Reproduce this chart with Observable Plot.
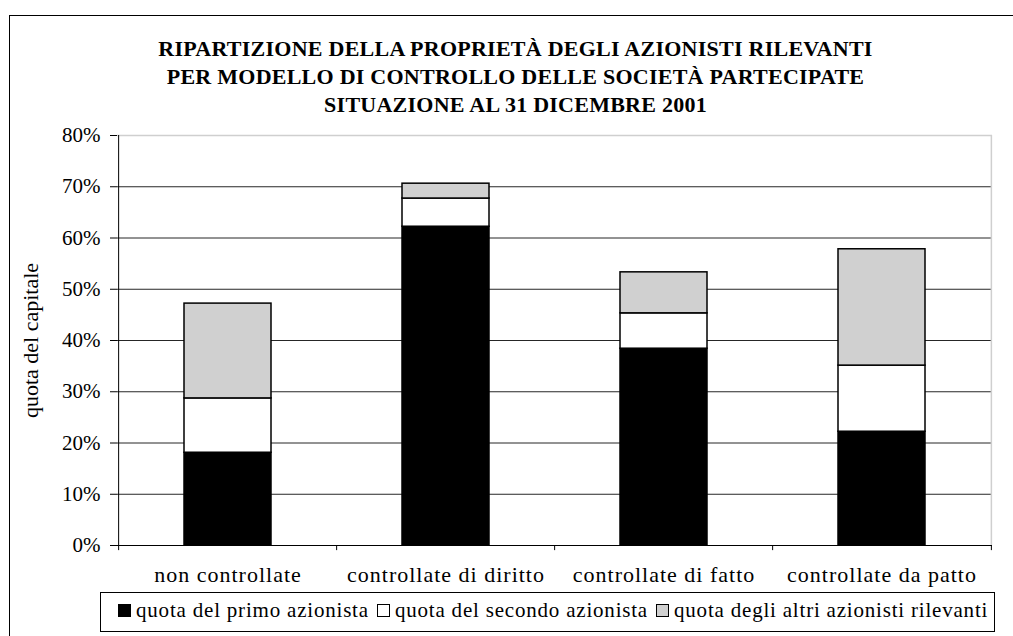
<!DOCTYPE html>
<html><head><meta charset="utf-8">
<script src="https://cdn.jsdelivr.net/npm/d3@7"></script>
<script src="https://cdn.jsdelivr.net/npm/@observablehq/plot@0.6"></script>
<style>
body{margin:0;background:#fff;overflow:hidden;}
#wrap{position:relative;width:1013px;height:636px;overflow:hidden;font-family:"Liberation Serif","Times New Roman",serif;color:#000;}
#frame{position:absolute;left:9px;top:15px;width:1040px;height:640px;border:1.5px solid #000;box-sizing:border-box;}
#title{position:absolute;left:9px;width:1013px;top:35px;text-align:center;font-weight:bold;font-size:22px;line-height:28px;letter-spacing:0.25px;}
#chart{position:absolute;left:0;top:0;}
#legend{position:absolute;left:100px;top:592px;width:895px;height:40px;border:1px solid #000;box-sizing:border-box;display:flex;align-items:center;padding-left:17px;padding-bottom:4px;font-size:21px;line-height:24px;letter-spacing:0.8px;white-space:nowrap;background:#fff;}
.item{display:flex;align-items:center;margin-right:8px;}
.sw{width:13px;height:13px;border:1.2px solid #000;box-sizing:border-box;margin-right:5px;}
</style></head>
<body><div id="wrap"><div id="frame"></div><div id="chart"></div><div id="title"></div><div id="legend"></div></div>
<script>
const categories = ["non controllate","controllate di diritto","controllate di fatto","controllate da patto"];
const series = ["quota del primo azionista","quota del secondo azionista","quota degli altri azionisti rilevanti"];
const primo = [18.1, 62.2, 38.4, 22.2];
const secondo = [10.6, 5.5, 6.9, 12.9];
const altri = [18.5, 2.9, 8.0, 22.7];
const yTicks = [0,10,20,30,40,50,60,70,80];
const colors = ["#000000","#ffffff","#d0d0d0"];
const titleLines = ["RIPARTIZIONE DELLA PROPRIETÀ DEGLI AZIONISTI RILEVANTI","PER MODELLO DI CONTROLLO DELLE SOCIETÀ PARTECIPATE","SITUAZIONE AL 31 DICEMBRE 2001"];
const yLabel = "quota del capitale";

const data = [];
[primo, secondo, altri].forEach((vals, si) => vals.forEach((v, ci) => data.push({cat: categories[ci], series: series[si], value: v})));

const W = 1013, H = 636, mL = 117, mR = 21, mT = 135, mB = 91;
const step = (W - mL - mR) / categories.length;

const chart = Plot.plot({
  width: W, height: H, marginLeft: mL, marginRight: mR, marginTop: mT, marginBottom: mB,
  style: {fontFamily: "'Liberation Serif', 'Times New Roman', serif", fontSize: "21px", background: "transparent", color: "#000", overflow: "visible"},
  x: {domain: categories, paddingInner: 0.6, paddingOuter: 0.3, axis: null, label: null},
  y: {domain: [0, 80], axis: null},
  color: {domain: series, range: colors},
  marks: [
    Plot.gridY(yTicks.slice(0, -1), {stroke: "#000", strokeOpacity: 0.85}),
    Plot.ruleY([80], {stroke: "#cfcfcf", strokeWidth: 1.5}),
    Plot.ruleX([categories[categories.length - 1]], {y1: 0, y2: 80, dx: step / 2, stroke: "#cfcfcf", strokeWidth: 1.5}),
    Plot.barY(data, {x: "cat", y: "value", fill: "series", stroke: "#000", strokeWidth: 1.5}),
    Plot.ruleY([0], {stroke: "#000", strokeWidth: 1}),
    Plot.ruleX([categories[0]], {y1: 0, y2: 80, dx: -step / 2, stroke: "#000", strokeWidth: 1}),
    Plot.ruleX(categories, {x: d => d, y1: 0, y2: -1, dx: -step / 2, stroke: "#000"}),
    Plot.ruleX([categories[categories.length - 1]], {y1: 0, y2: -1, dx: step / 2, stroke: "#000"}),
    Plot.axisY(yTicks, {tickSize: 7, tickPadding: 10, tickFormat: d => d + "%", fontSize: 21, label: yLabel, labelAnchor: "center", labelArrow: "none", labelOffset: 95}),
    Plot.axisX({tickSize: 0, tickPadding: 21, fontSize: 22, label: null})
  ]
});
document.getElementById("chart").appendChild(chart);
chart.querySelectorAll("g[aria-label='x-axis tick label'] text").forEach(t => t.setAttribute("letter-spacing", "1"));
chart.querySelectorAll("g[aria-label='y-axis label'] text").forEach(t => t.setAttribute("font-size", "22"));

document.getElementById("title").innerHTML = titleLines.map(t => `<div>${t}</div>`).join("");
document.getElementById("legend").innerHTML = series.map((s, i) => `<div class="item"><div class="sw" style="background:${colors[i]}"></div><span>${s}</span></div>`).join("");
</script></body></html>
